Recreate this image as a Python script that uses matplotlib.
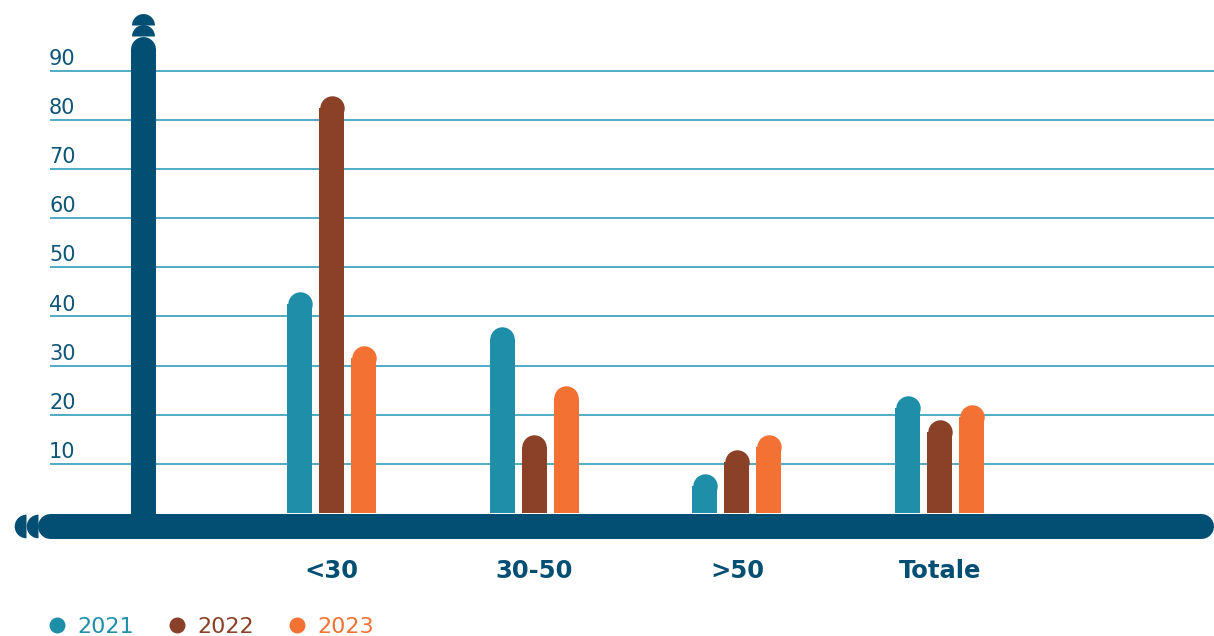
import matplotlib
matplotlib.use("Agg")
from matplotlib import pyplot as plt
from matplotlib.lines import Line2D

#----------Data----------#
categories = ["<30", "30-50", ">50", "Totale"]
years = ["2021", "2022", "2023"]
v2021 = [45, 38, 8, 24]
v2022 = [85, 16, 13, 19]
v2023 = [34, 26, 16, 22]
yticks = [10, 20, 30, 40, 50, 60, 70, 80, 90]

navy = "#034f74"
grid_col = "#1f95b4"
colors = ["#1f8fa9", "#8a4127", "#f37132"]

#----------Canvas (pixel-matched)----------#
W, H = 1214, 636
fig = plt.figure(figsize=(W / 100, H / 100), dpi=100)
ax = fig.add_axes([0, 0, 1, 1])
ax.axis("off")

step = 202.7      # px between groups
ppu = 4.914       # px per y unit
base = 513        # px from top where y = 0
x0 = -331.5 / step
ax.set_xlim(x0, x0 + W / step)
y0 = -(H - base) / ppu
ax.set_ylim(y0, y0 + H / ppu)


def px(p):
    return x0 + p / step


def py(p):
    return (base - p) / ppu


# grid + y labels
ax.hlines(yticks, px(50), px(W), color=grid_col, lw=1.1, zorder=1)
for t in yticks:
    ax.text(px(49), t + 1.2, str(t), ha="left", va="baseline",
            fontsize=15, color="#0e5578")

#----------Bars with rounded tops----------#
bw = 25 / step
off = 32 / step
r = 12.5 / ppu
for j, (vals, c) in enumerate(zip([v2021, v2022, v2023], colors)):
    xs = [i + (j - 1) * off for i in range(len(categories))]
    ax.bar(xs, [v - r for v in vals], width=bw, color=c, zorder=3)
    ax.scatter(xs, [v - r for v in vals], s=17.6 ** 2, color=c,
               linewidths=0, zorder=3)

#----------Axes decoration----------#
# vertical axis bar
xv = px(143)
ax.plot([xv, xv], [py(525), py(49.5)], lw=18, color=navy,
        solid_capstyle="round", zorder=4)
for flat in [36.5, 25]:
    ax.plot(xv, py(flat), marker="o", ms=16.5, fillstyle="top",
            markerfacecolor=navy, markerfacecoloralt="none",
            markeredgecolor="none", zorder=4)

# horizontal axis band
yb = py(525.5)
ax.plot([px(50), px(1201)], [yb, yb], lw=18, color=navy,
        solid_capstyle="round", zorder=5)
for flat in [37.5, 26]:
    ax.plot(px(flat), yb, marker="o", ms=17, fillstyle="left",
            markerfacecolor=navy, markerfacecoloralt="none",
            markeredgecolor="none", zorder=5)

# category labels
for i, cat in enumerate(categories):
    ax.text(i, py(571), cat, ha="center", va="center", fontsize=17.5,
            fontweight="bold", color=navy)

#----------Legend----------#
handles = [Line2D([], [], marker="o", ls="", ms=11.5, color=c,
                  markeredgewidth=0) for c in colors]
leg = fig.legend(handles, years, ncol=3, loc="center left",
                 bbox_to_anchor=(48.5 / W, 1 - 627 / H), frameon=False,
                 fontsize=16, handlelength=0.75, handletextpad=0.55,
                 columnspacing=1.55, borderpad=0, borderaxespad=0)
for txt, c in zip(leg.get_texts(), colors):
    txt.set_color(c)

fig.savefig("out.png", dpi=100)
